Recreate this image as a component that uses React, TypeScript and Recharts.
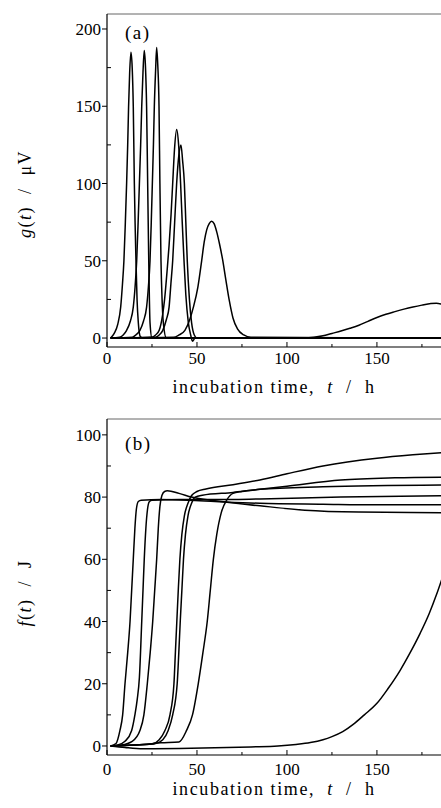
import React from 'react';
import { LineChart, Line, XAxis, YAxis, ReferenceLine, Label } from 'recharts';

const FONT = '"Liberation Serif", "DejaVu Serif", "Times New Roman", serif';

// ---- axes ----
const xTicks = [0, 25, 50, 75, 100, 125, 150, 175];
const xMajor = [0, 50, 100, 150];
const xDomain: [number, number] = [0, 185.6];

const gTicks = [0, 25, 50, 75, 100, 125, 150, 175, 200];
const gMajor = [0, 50, 100, 150, 200];
const gDomain: [number, number] = [-5.8, 209.7];

const fTicks = [0, 10, 20, 30, 40, 50, 60, 70, 80, 90, 100];
const fMajor = [0, 20, 40, 60, 80, 100];
const fDomain: [number, number] = [-2.9, 105.1];

// ---- panel (a): g(t) / µV, [t (h), value] ----
const g1 = [[2, 0], [4, 3], [6, 9], [7.6, 20], [8.6, 35], [9.4, 50], [10.2, 75], [10.9, 100], [11.5, 125], [12, 150], [12.6, 172], [13.3, 185], [14, 175], [14.6, 150], [15.2, 100], [15.6, 75], [16.1, 50], [16.7, 25], [17.4, 10], [18.5, 1], [20, 0], [186, 0]];
const g2 = [[2, 0], [7, 0.5], [9, 2], [10.9, 5], [13, 11], [14.6, 20], [15.6, 33], [16.5, 50], [17.3, 75], [18, 100], [18.7, 125], [19.3, 150], [20, 172], [20.7, 186], [21.4, 175], [22, 150], [22.6, 100], [23.2, 50], [23.9, 10], [25, 0], [186, 0]];
const g3 = [[2, 0], [14, 0.5], [16, 2], [18.3, 5], [20.3, 11], [22, 20], [23, 33], [23.9, 50], [24.6, 75], [25.2, 100], [25.8, 125], [26.3, 150], [27, 173], [27.6, 188], [28.2, 177], [28.9, 150], [29.4, 100], [30, 50], [30.6, 25], [31.3, 10], [33, 0], [186, 0]];
const g4 = [[2, 0], [25, 0.5], [27, 2], [29, 5], [30.9, 15], [32, 25], [33.5, 45], [34.5, 60], [35.6, 80], [36.5, 100], [37.5, 122], [38.7, 135], [39.8, 125], [40.9, 100], [41.8, 75], [42.8, 50], [43.8, 28], [45.2, 10], [46.5, 2], [47.5, -2], [49, 0], [186, 0]];
const g5 = [[2, 0], [27, 0.5], [29, 2], [31, 5], [33, 12], [34.5, 20], [35.5, 35], [36.5, 50], [37.6, 75], [38.7, 100], [39.9, 118], [41.1, 125], [42, 115], [43, 100], [43.8, 75], [44.6, 50], [45.8, 25], [47, 10], [48.5, 2], [50, 0], [186, 0]];
const g6 = [[2, 0], [37, 0.5], [40, 2], [43.3, 5], [46, 12], [48, 20], [50.5, 33], [52.6, 50], [54, 62], [55.4, 70], [56.8, 74], [58.1, 75.5], [59.5, 74], [60.9, 69], [62.5, 61], [64.2, 51], [66, 38], [68, 24], [70, 13], [72.5, 6], [76, 2], [80, 0.5], [186, 0]];
const g7 = [[2, 0], [110, 0], [115, 0.5], [120, 1.5], [125, 3], [130, 4.5], [135, 6.3], [140, 8.3], [145, 10.8], [150, 13.3], [155, 15.4], [160, 17.1], [165, 18.7], [170, 20.1], [175, 21.3], [180, 22.3], [183, 22.5], [186, 22]];

// ---- panel (b): f(t) / J, [t (h), value] ----
const f1 = [[2, 0], [5, 0.8], [7.2, 5], [8.7, 10], [10, 20], [11.5, 30], [12.8, 40], [13.7, 50], [14.6, 60], [15.5, 70], [16.3, 76], [17.4, 78.6], [19, 79], [30, 79.2], [45, 79], [60, 78.6], [85, 78], [120, 77.7], [150, 77.5], [186, 77.5]];
const f2 = [[2, 0], [6, 0.3], [10, 1.5], [13.7, 5], [15.5, 10], [16.8, 15], [18, 22], [19.3, 40], [20, 50], [20.7, 60], [21.6, 70], [22.5, 76], [23.5, 78.5], [25, 79], [40, 79.2], [60, 79.2], [85, 79.4], [130, 80], [186, 80.4]];
const f3 = [[2, 0], [8, 0.3], [14, 1.5], [18.3, 5], [20.5, 10], [22.4, 20], [24, 30], [25.4, 40], [26.5, 50], [27.6, 60], [28.5, 70], [29.4, 77], [30.5, 80.5], [32, 81.8], [33.5, 82], [40, 81.2], [47, 80], [60, 78.8], [85, 77.2], [110, 75.8], [140, 75.2], [186, 75]];
const f4 = [[2, 0], [15, 0.3], [25, 0.6], [29, 2], [32.2, 5], [35, 10], [37.2, 20], [38, 30], [38.8, 40], [39.6, 50], [40.5, 60], [41.6, 68], [43, 74], [45, 78], [47, 80.5], [50, 81.8], [55, 82.6], [70, 84], [85, 85.5], [100, 87.5], [120, 90], [150, 92.5], [170, 93.6], [186, 94.3]];
const f5 = [[2, 0], [15, 0.3], [27, 0.8], [31, 2], [34, 5], [36.5, 10], [39, 20], [39.9, 30], [40.7, 40], [41.6, 50], [42.5, 60], [43.6, 68], [45, 74], [47, 78], [49, 80], [53, 80.6], [70, 81.5], [85, 82.5], [120, 83.3], [186, 83.9]];
const f6 = [[2, 0], [20, 0.5], [30, 1], [40, 1.3], [44.2, 5], [47.5, 10], [50.7, 20], [53.3, 30], [55.7, 40], [57.4, 50], [59.1, 60], [61, 68], [63.5, 75], [66.5, 79], [70, 81.2], [75, 81.8], [85, 82.5], [100, 83.5], [130, 85.5], [160, 86.2], [186, 86.4]];
const f7 = [[2, 0], [10, -0.5], [20, -0.9], [40, -0.8], [60, -0.6], [80, -0.3], [95, 0], [105, 0.5], [113, 1.1], [120, 2], [125, 3], [131, 4.6], [137, 7], [143, 10], [150, 13.7], [156, 18.3], [163, 24.4], [168, 29.5], [174, 36.2], [179, 42.5], [183, 48.5], [186, 53.5]];

const gSeries = [g1, g2, g3, g4, g5, g6, g7];
const fSeries = [f1, f2, f3, f4, f5, f6, f7];

const toPts = (arr: number[][]) => arr.map(([t, v]) => ({ t, v }));

const makeYTick = (major: number[]) => (props: any) => {
  const { x, y, payload } = props;
  const isMajor = major.includes(payload.value);
  return (
    <g>
      <line x1={isMajor ? x - 5 : x} x2={isMajor ? x : x + 4} y1={y} y2={y} stroke="#000" strokeWidth={1} />
      {isMajor && (
        <text x={x - 6} y={y} dy="0.36em" textAnchor="end" fontFamily={FONT} fontSize={17} fill="#000">
          {payload.value}
        </text>
      )}
    </g>
  );
};

const makeXTick = (major: number[], labelDy: number) => (props: any) => {
  const { x, y, payload } = props;
  const isMajor = major.includes(payload.value);
  return (
    <g>
      <line x1={x} x2={x} y1={y} y2={y - (isMajor ? 5 : 3)} stroke="#000" strokeWidth={1} />
      {isMajor && (
        <text x={x} y={y + labelDy} textAnchor="middle" fontFamily={FONT} fontSize={17} fill="#000">
          {payload.value}
        </text>
      )}
    </g>
  );
};

const XTitle = (baseline: number) => () => (
  <text x={274} y={baseline} textAnchor="middle" fontFamily={FONT} fontSize={18} fill="#000" letterSpacing={1.6} style={{ whiteSpace: 'pre' }}>
    {'incubation time,  '}
    <tspan fontStyle="italic">t</tspan>
    {'  /  h'}
  </text>
);

const YTitle = (fn: string, unit: string, cy: number) => () => (
  <text x={25} y={cy} transform={`rotate(-90 25 ${cy})`} textAnchor="middle" dominantBaseline="central" fontFamily={FONT} fontSize={18} fill="#000" letterSpacing={1.5} style={{ whiteSpace: 'pre' }}>
    <tspan fontStyle="italic">{fn}</tspan>
    {'('}
    <tspan fontStyle="italic">t</tspan>
    {')  /  ' + unit}
  </text>
);

function Panel(props: {
  series: number[][][];
  yTicks: number[];
  yMajor: number[];
  yDomain: [number, number];
  height: number;
  top: number;
  xLabelDy: number;
  xTitleBaseline: number;
  yTitle: () => React.ReactElement;
  tag: string;
  tagY: number;
}) {
  const { series, yTicks, yMajor, yDomain, height, top, xLabelDy, xTitleBaseline, yTitle, tag, tagY } = props;
  return (
    <LineChart width={441} height={height} margin={{ top, right: 0, bottom: 0, left: 0 }}>
      <XAxis
        dataKey="t"
        type="number"
        domain={xDomain}
        allowDataOverflow
        ticks={xTicks}
        interval={0}
        height={53}
        tickSize={0}
        tickMargin={0}
        tickLine={false}
        axisLine={{ stroke: '#000', strokeWidth: 1.2 }}
        tick={makeXTick(xMajor, xLabelDy)}
      >
        <Label content={XTitle(xTitleBaseline)} />
      </XAxis>
      <YAxis
        dataKey="v"
        type="number"
        domain={yDomain}
        allowDataOverflow
        ticks={yTicks}
        interval={0}
        width={107}
        tickSize={0}
        tickMargin={0}
        tickLine={false}
        axisLine={{ stroke: '#000', strokeWidth: 1.2 }}
        tick={makeYTick(yMajor)}
      >
        <Label content={yTitle} />
      </YAxis>
      <ReferenceLine y={yDomain[1]} stroke="#666" strokeWidth={1} />
      {series.map((s, i) => (
        <Line
          key={i}
          data={toPts(s)}
          dataKey="v"
          type="monotone"
          dot={false}
          activeDot={false}
          stroke="#000"
          strokeWidth={1.5}
          isAnimationActive={false}
        />
      ))}
      <text x={125} y={tagY} fontFamily={FONT} fontSize={19} letterSpacing={1.5} fill="#000">
        {tag}
      </text>
    </LineChart>
  );
}

export default function App() {
  return (
    <div style={{ position: 'absolute', left: 0, top: 0, width: 441, height: 808, background: '#fff' }}>
      <div style={{ position: 'absolute', left: 0, top: 0 }}>
        <Panel
          series={gSeries}
          yTicks={gTicks}
          yMajor={gMajor}
          yDomain={gDomain}
          height={400}
          top={14}
          xLabelDy={17}
          xTitleBaseline={393}
          yTitle={YTitle('g', 'μV', 194)}
          tag="(a)"
          tagY={39}
        />
      </div>
      <div style={{ position: 'absolute', left: 0, top: 400 }}>
        <Panel
          series={fSeries}
          yTicks={fTicks}
          yMajor={fMajor}
          yDomain={fDomain}
          height={408}
          top={19}
          xLabelDy={20}
          xTitleBaseline={395}
          yTitle={YTitle('f', 'J', 193)}
          tag="(b)"
          tagY={50}
        />
      </div>
    </div>
  );
}
